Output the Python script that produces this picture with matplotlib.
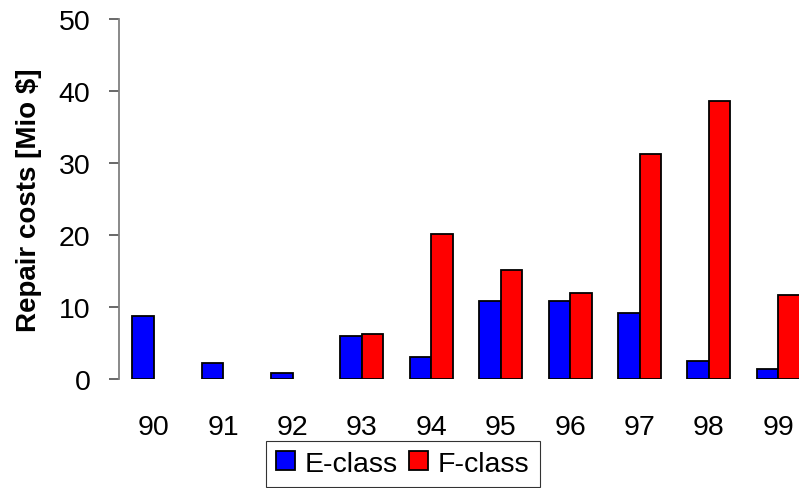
import numpy as np
import matplotlib.pyplot as plt

plt.rcParams['font.family'] = ['Liberation Sans', 'DejaVu Sans']

years = ["90", "91", "92", "93", "94", "95", "96", "97", "98", "99"]
e_class = [8.7, 2.2, 0.8, 6.0, 3.0, 10.8, 10.8, 9.2, 2.5, 1.4]
f_class = [np.nan, np.nan, np.nan, 6.25, 20.1, 15.2, 11.9, 31.2, 38.6, 11.7]

W, H = 799, 489
fig = plt.figure(figsize=(W / 100, H / 100), dpi=100)
ax = fig.add_axes([119 / W, (H - 380) / H, (813 - 119) / W, 360 / H])

x = np.arange(len(years))
w = 0.31
ax.bar(x - w / 2, e_class, w, color="#0000ff", edgecolor="black", linewidth=1.3, label="E-class")
ax.bar(x + w / 2, f_class, w, color="#ff0000", edgecolor="black", linewidth=1.3, label="F-class")

ax.set_xlim(-0.5, 9.5)
ax.set_ylim(0, 50)
ax.set_yticks([0, 10, 20, 30, 40, 50])
ax.set_xticks(x)
ax.set_xticklabels(years)

for s in ["top", "right", "bottom"]:
    ax.spines[s].set_visible(False)
ax.spines["left"].set_color("#808080")
ax.spines["left"].set_linewidth(1.3)

ax.tick_params(axis="y", length=7, width=1.1, color="#404040", pad=13.5, labelsize=20.5)
ax.tick_params(axis="x", length=0, pad=25, labelsize=20.5)

ax.set_ylabel("Repair costs [Mio $]", fontsize=20, fontweight="bold", labelpad=12)

leg = fig.legend(loc="lower center", bbox_to_anchor=(403 / W, 0.0), ncol=2,
                 fontsize=20.5, frameon=True, fancybox=False, handlelength=0.65,
                 handleheight=0.65, handletextpad=0.35, columnspacing=0.4,
                 borderpad=0.35, borderaxespad=0.05)
leg.get_frame().set_edgecolor("black")
leg.get_frame().set_linewidth(0.8)

fig.savefig("out.png", dpi=100)
